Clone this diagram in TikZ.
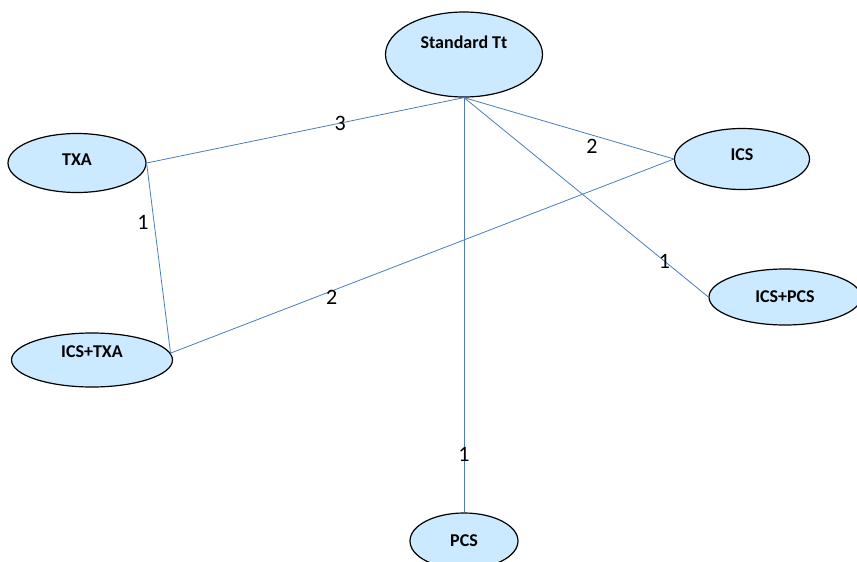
\documentclass[tikz,border=0pt]{standalone}
\usepackage{fontspec}
\setmainfont{Carlito}
\usepackage{tikz}
\usetikzlibrary{
  shapes,
  positioning}

\definecolor{armfill}{RGB}{204,234,255}
\definecolor{linkblue}{RGB}{74,126,187}

\begin{document}
\begin{tikzpicture}[x=1pt,y=-1pt,
        arm/.style={ellipse,draw,fill=armfill,line width=1.2pt,inner sep=0pt,
            font=\bfseries\fontsize{18}{20}\selectfont},
        link/.style={draw=linkblue,line width=0.8pt},
        count/.style={font=\fontsize{22}{24}\selectfont,inner sep=0pt}]
        \useasboundingbox (0,0) rectangle (857,562);

        \node (std) at (464,54.5) [arm,minimum width=157pt,minimum height=85pt,text depth=24pt] {Standard Tt};
        \node (txa) at (77,163) [arm,minimum width=138pt,minimum height=59pt,text depth=6pt] {TXA};
        \node (ics) at (742,159) [arm,minimum width=135pt,minimum height=61pt,text depth=8pt] {ICS};
        \node (icspcs) at (785,297) [arm,minimum width=152pt,minimum height=56pt] {ICS+PCS};
        \node (icstxa) at (92,360) [arm,minimum width=161pt,minimum height=54pt,text depth=16pt] {ICS+TXA};
        \node (pcs) at (464,541) [arm,minimum width=108pt,minimum height=56pt] {PCS};

        \draw[link] (std.south)--(txa.east) node [count,pos=0.39] {3};
        \draw[link] (std.south)--(ics.west) node [count,pos=0.61,yshift=-11pt] {2};
        \draw[link] (std.south)--(icspcs.west) node [count,pos=0.82] {1};
        \draw[link] (std.south)--(pcs.north) node [count,pos=0.86] {1};
        \draw[link] (txa.east)--(icstxa.5) node [count,pos=0.31,xshift=-11pt] {1};
        \draw[link] (icstxa.5)--(ics.west) node [count,pos=0.32,yshift=-6pt] {2};
    \end{tikzpicture}
\end{document}
